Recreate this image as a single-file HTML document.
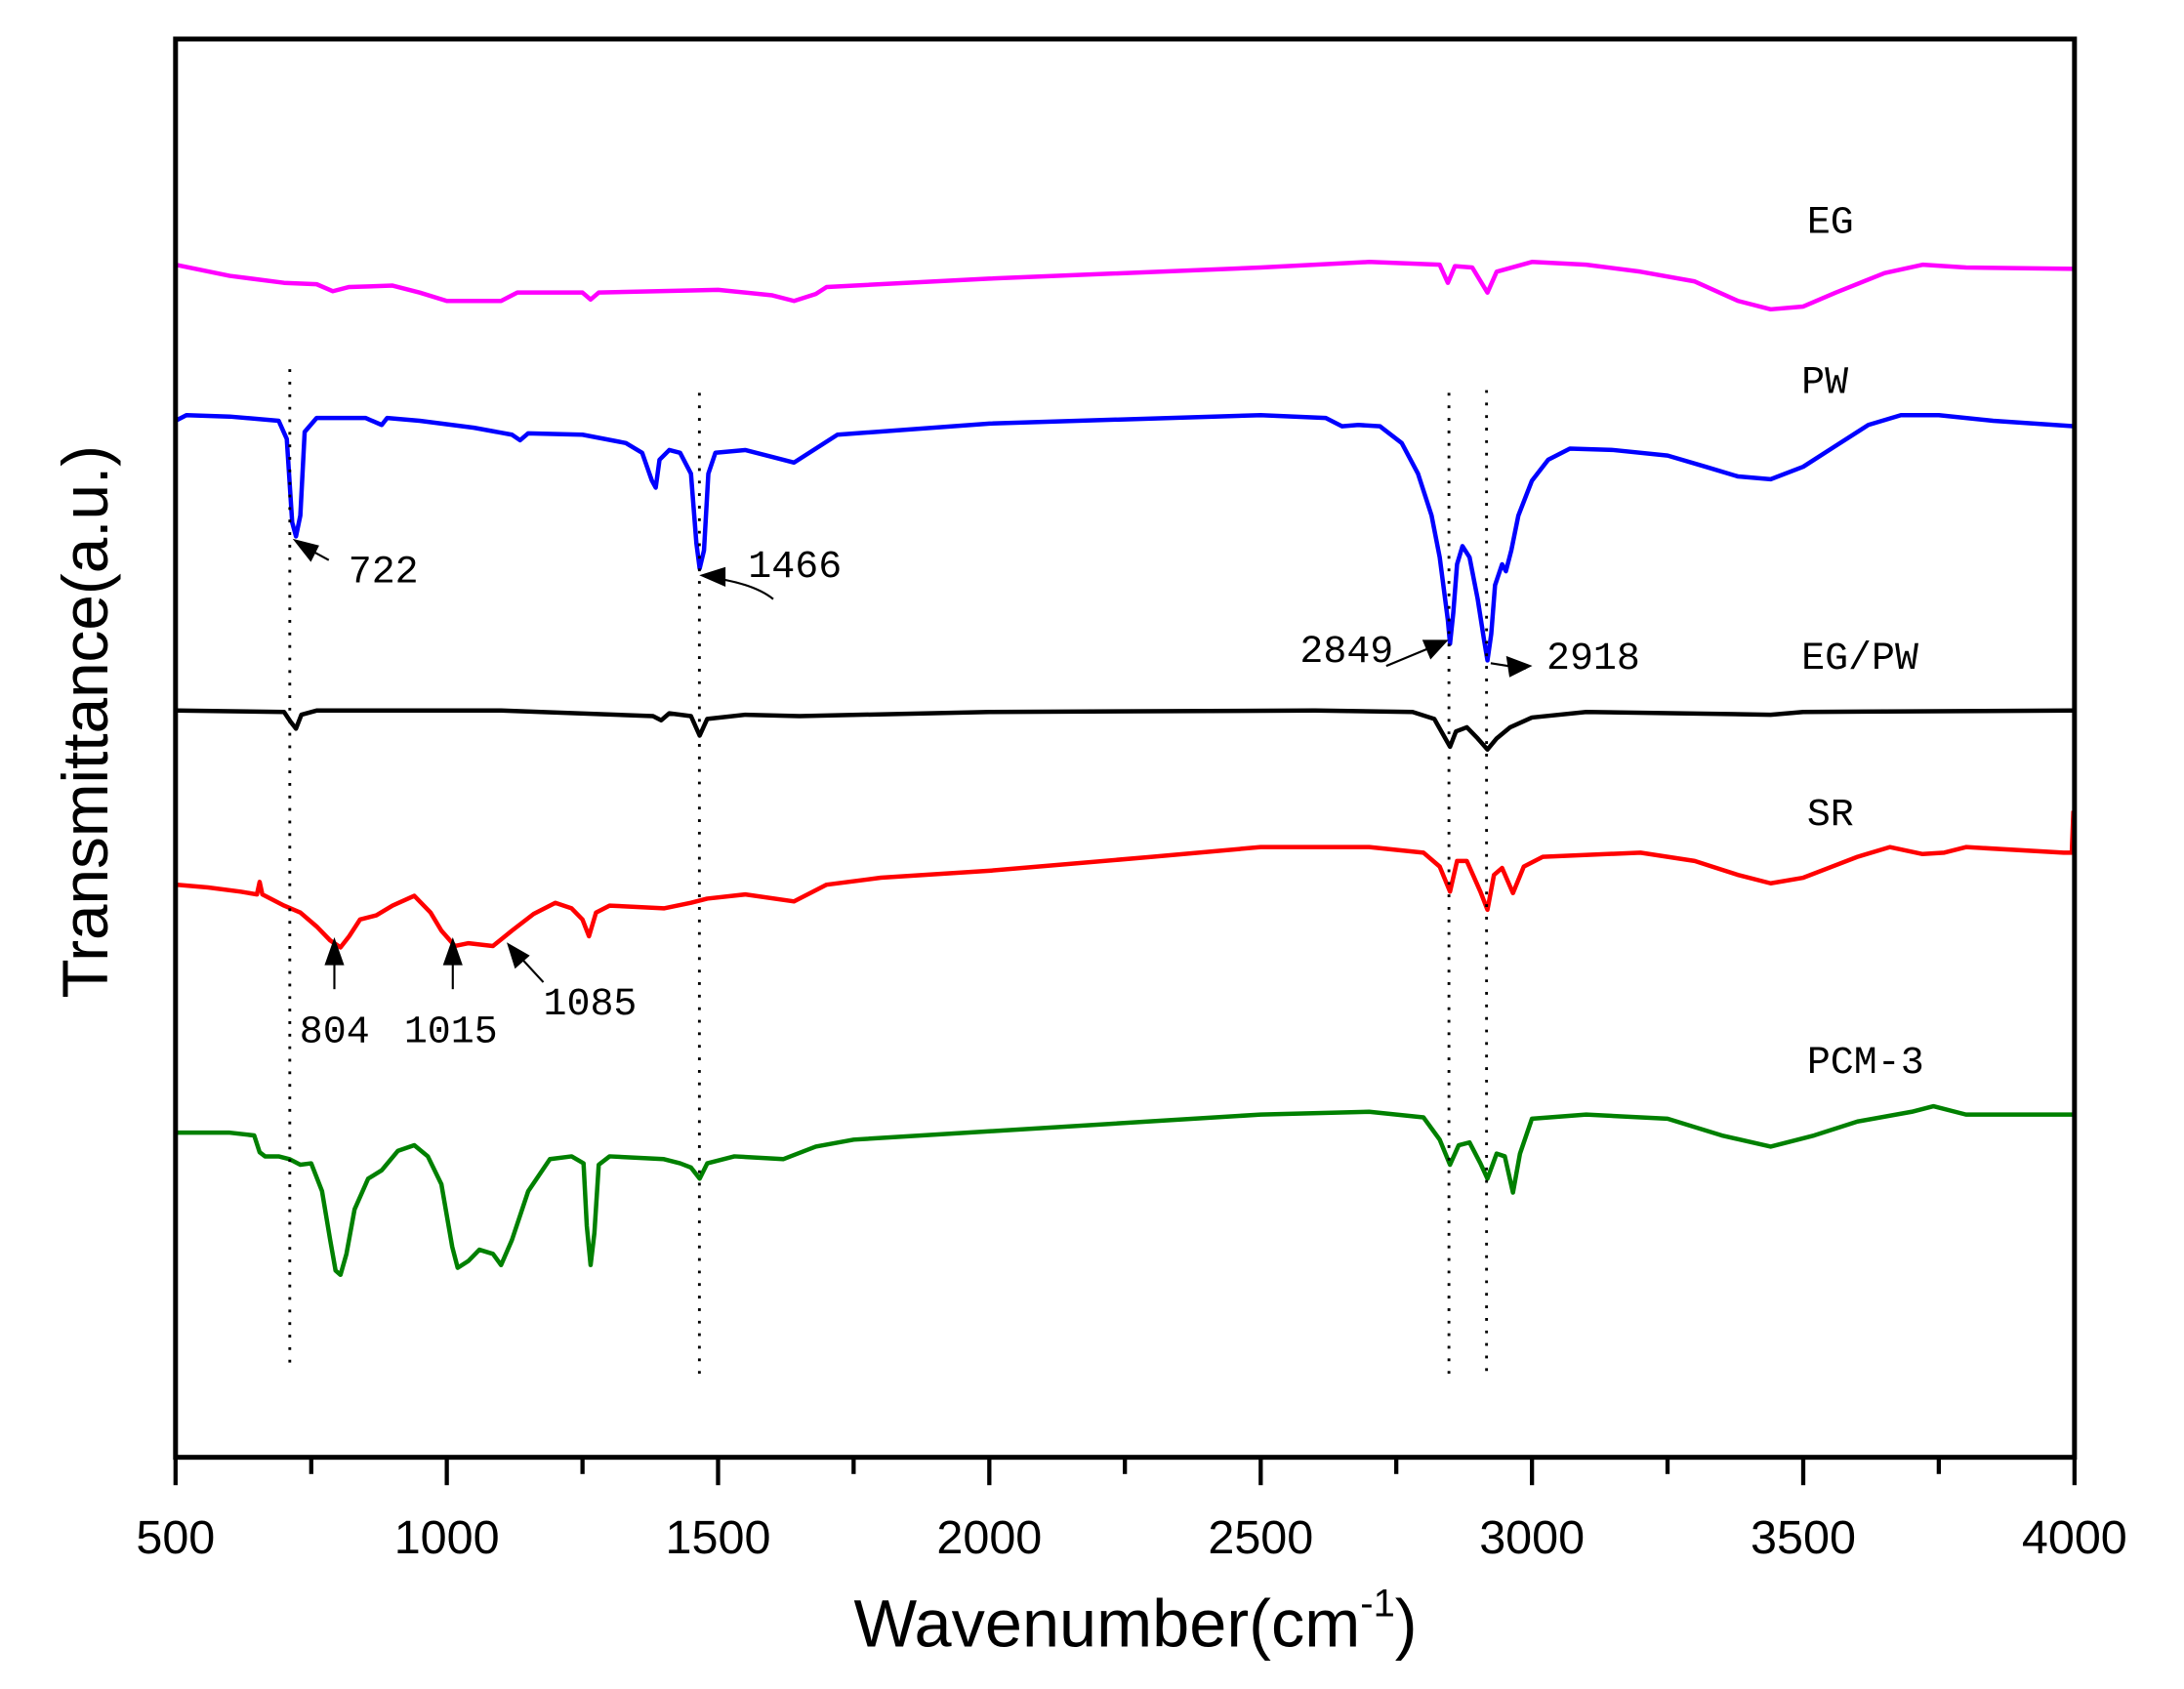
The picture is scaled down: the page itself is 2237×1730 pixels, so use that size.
<!DOCTYPE html>
<html><head><meta charset="utf-8"><style>
html,body{margin:0;padding:0;background:#fff;}
svg{display:block;}
</style></head><body>
<svg width="2237" height="1730" viewBox="0 0 1567.6 1212.3" xmlns="http://www.w3.org/2000/svg">
<rect width="1567.6" height="1212.3" fill="#fff"/>
<g id="data" transform="translate(126,0) scale(0.38943,1) translate(-500,0)" fill="none" stroke-width="4.5" stroke-linejoin="round">
<polyline vector-effect="non-scaling-stroke" stroke-width="4.5" stroke="#ff00ff" points="500,190 600,198 700,203 760,204 790,209 820,206 900,205 950,210 1000,216 1100,216 1130,210 1250,210 1265,215 1280,210 1500,208 1600,212 1640,216 1680,211 1700,206 2000,200 2500,192 2700,188 2830,190 2845,203 2858,191 2890,192 2918,210 2935,195 3000,188 3100,190 3200,195 3300,202 3380,216 3440,222 3500,220 3560,210 3650,196 3720,190 3800,192 4000,193"/>
<polyline vector-effect="non-scaling-stroke" stroke-width="4.5" stroke="#0000ff" points="500,302 520,298 600,299 690,302 705,315 715,375 722,385 730,370 738,310 760,300 850,300 880,305 890,300 950,302 1050,307 1120,312 1135,316 1150,311 1250,312 1330,318 1360,325 1378,345 1385,350 1392,330 1410,323 1430,325 1450,340 1460,390 1466,408 1474,395 1482,340 1495,325 1550,323 1600,328 1640,332 1680,322 1720,312 2000,304 2500,298 2620,300 2650,306 2680,305 2720,306 2760,318 2790,340 2815,370 2830,400 2845,445 2849,462 2855,440 2862,405 2872,392 2885,400 2900,430 2912,460 2918,474 2925,455 2932,420 2945,405 2952,410 2962,395 2975,370 3000,345 3030,330 3070,322 3150,323 3250,327 3320,335 3380,342 3440,344 3500,335 3560,320 3620,305 3680,298 3750,298 3850,302 4000,306"/>
<polyline vector-effect="non-scaling-stroke" stroke-width="4.5" stroke="#000" points="500,510 700,511 712,518 722,523 732,513 760,510 1100,510 1380,514 1395,517 1410,512 1450,514 1466,528 1480,516 1550,513 1650,514 2000,511 2600,510 2780,511 2820,516 2849,536 2860,525 2880,522 2900,530 2918,538 2935,530 2960,522 3000,515 3100,511 3440,513 3500,511 4000,510"/>
<polyline vector-effect="non-scaling-stroke" stroke-width="4.5" stroke="#ff0000" points="500,635 560,637 620,640 650,642 655,633 660,642 700,650 730,655 760,665 785,675 804,680 820,672 840,660 870,657 900,650 940,643 970,655 990,668 1015,679 1040,677 1085,679 1120,668 1160,656 1200,648 1230,652 1250,660 1262,672 1275,655 1300,650 1400,652 1450,648 1480,645 1550,642 1640,647 1700,635 1800,630 2000,625 2300,615 2500,608 2700,608 2800,612 2830,622 2849,640 2862,618 2880,618 2905,640 2918,653 2930,628 2945,623 2965,641 2985,622 3020,615 3200,612 3300,618 3380,628 3440,634 3500,630 3600,615 3660,608 3720,613 3760,612 3800,608 3980,612 3995,612 3998,582"/>
<polyline vector-effect="non-scaling-stroke" stroke-width="4.5" stroke="#008000" points="500,813 600,813 645,815 655,827 665,830 690,830 710,832 730,836 750,835 770,855 785,890 795,912 804,915 815,900 830,868 855,846 880,840 910,826 940,822 965,830 990,850 1010,895 1020,910 1040,905 1060,897 1085,900 1100,908 1120,890 1150,855 1190,832 1230,830 1252,835 1258,880 1265,908 1272,885 1280,836 1300,830 1400,832 1430,835 1450,838 1466,846 1480,835 1530,830 1620,832 1680,823 1750,818 2000,812 2500,800 2700,798 2800,802 2830,818 2849,836 2865,822 2885,820 2905,835 2918,846 2935,828 2950,830 2965,856 2978,828 3000,803 3100,800 3250,803 3350,815 3440,823 3520,815 3600,805 3700,798 3740,794 3800,800 4000,800"/>
</g>
<g stroke="#000" stroke-width="2" stroke-dasharray="2,7">
<line x1="208" y1="265" x2="208" y2="978"/>
<line x1="502" y1="282" x2="502" y2="990"/>
<line x1="1040" y1="282" x2="1040" y2="988"/>
<line x1="1067" y1="280" x2="1067" y2="988"/>
</g>
<g stroke="#000" stroke-width="1.5" fill="#000">
<line x1="236" y1="402" x2="214" y2="390"/><polygon points="212,388 228,392 223,402"/>
<path d="M555,430 Q540,418 506,414" fill="none"/><polygon points="504,413 520,408 520,420"/>
<line x1="995" y1="478" x2="1036" y2="461"/><polygon points="1038,460 1022,460 1027,472"/>
<line x1="1095" y1="480" x2="1070" y2="476"/><polygon points="1098,478 1082,472 1084,485"/>
<line x1="240" y1="710" x2="240" y2="677"/><polygon points="240,675 234,692 246,692"/>
<line x1="325" y1="710" x2="325" y2="677"/><polygon points="325,675 319,692 331,692"/>
<line x1="390" y1="705" x2="367" y2="680"/><polygon points="365,678 370,694 379,686"/>
</g>
<g font-family="Liberation Mono, monospace" font-size="28" fill="#000">
<text x="1297" y="167">EG</text>
<text x="1293" y="282">PW</text>
<text x="1293" y="480">EG/PW</text>
<text x="1297" y="592">SR</text>
<text x="1297" y="770">PCM-3</text>
<text x="250" y="418">722</text>
<text x="537" y="414">1466</text>
<text x="933" y="475">2849</text>
<text x="1110" y="480">2918</text>
<text x="215" y="748">804</text>
<text x="290" y="748">1015</text>
<text x="390" y="728">1085</text>
</g>
<rect x="126" y="28" width="1363" height="1018" fill="none" stroke="#000" stroke-width="3.5"/>
<g stroke="#000" stroke-width="3">
<line x1="126" y1="1046" x2="126" y2="1066"/><line x1="223.4" y1="1046" x2="223.4" y2="1058"/>
<line x1="320.7" y1="1046" x2="320.7" y2="1066"/><line x1="418.1" y1="1046" x2="418.1" y2="1058"/>
<line x1="515.4" y1="1046" x2="515.4" y2="1066"/><line x1="612.7" y1="1046" x2="612.7" y2="1058"/>
<line x1="710.1" y1="1046" x2="710.1" y2="1066"/><line x1="807.4" y1="1046" x2="807.4" y2="1058"/>
<line x1="904.9" y1="1046" x2="904.9" y2="1066"/><line x1="1002.2" y1="1046" x2="1002.2" y2="1058"/>
<line x1="1099.6" y1="1046" x2="1099.6" y2="1066"/><line x1="1196.9" y1="1046" x2="1196.9" y2="1058"/>
<line x1="1294.3" y1="1046" x2="1294.3" y2="1066"/><line x1="1391.6" y1="1046" x2="1391.6" y2="1058"/>
<line x1="1489" y1="1046" x2="1489" y2="1066"/>
</g>
<g font-family="Liberation Sans, sans-serif" font-size="34" fill="#000" text-anchor="middle">
<text x="126" y="1115">500</text><text x="320.7" y="1115">1000</text><text x="515.4" y="1115">1500</text>
<text x="710.1" y="1115">2000</text><text x="904.9" y="1115">2500</text><text x="1099.6" y="1115">3000</text>
<text x="1294.3" y="1115">3500</text><text x="1489" y="1115">4000</text>
</g>
<text x="815" y="1182" font-family="Liberation Sans, sans-serif" font-size="48" text-anchor="middle">Wavenumber(cm<tspan font-size="28" dy="-22">-1</tspan><tspan dy="22">)</tspan></text>
<text transform="translate(77,518) rotate(-90)" font-family="Liberation Sans, sans-serif" font-size="46" text-anchor="middle">Transmittance(a.u.)</text>
</svg>
</body></html>
